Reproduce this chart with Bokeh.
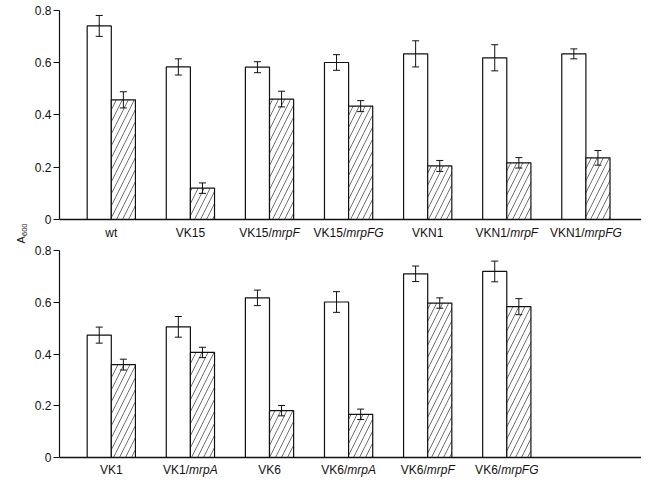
import math
from bokeh.plotting import figure
from bokeh.models import (ColumnDataSource, Range1d, FixedTicker, Span, Whisker,
                          TeeHead)
from bokeh.layouts import column, row
from bokeh.embed import file_html
from bokeh.resources import INLINE
from bokeh.core.properties import value

# ---------------- data ----------------
top_strain = ["wt", "VK15", "VK15/", "VK15/", "VKN1", "VKN1/", "VKN1/"]
top_plasmid = ["", "", "mrpF", "mrpFG", "", "mrpF", "mrpFG"]
top_open = [0.741, 0.584, 0.583, 0.601, 0.634, 0.619, 0.634]
top_open_err = [0.040, 0.031, 0.021, 0.030, 0.050, 0.050, 0.019]
top_hatch = [0.458, 0.120, 0.461, 0.434, 0.205, 0.217, 0.236]
top_hatch_err = [0.031, 0.020, 0.030, 0.021, 0.021, 0.020, 0.028]

bot_strain = ["VK1", "VK1/", "VK6", "VK6/", "VK6/", "VK6/"]
bot_plasmid = ["", "mrpA", "", "mrpA", "mrpF", "mrpFG"]
bot_open = [0.473, 0.505, 0.617, 0.601, 0.710, 0.719]
bot_open_err = [0.031, 0.040, 0.030, 0.040, 0.030, 0.040]
bot_hatch = [0.359, 0.406, 0.181, 0.167, 0.597, 0.583]
bot_hatch_err = [0.021, 0.020, 0.020, 0.020, 0.020, 0.031]

y_ticks = [0, 0.2, 0.4, 0.6, 0.8]
y_label_main = "A"
y_label_sub = "600"

# ---------------- styling / geometry ----------------
FONT = "Liberation Sans"
INK = "#111111"
X_START, X_END = -0.655, 6.703
BAR_W = 0.305
LABEL_PX = 12
LEFT_W = 30
CHAR_W = {'V': 667, 'K': 667, 'N': 722, 'w': 722, 't': 278, '1': 556, '5': 556,
          '6': 556, '/': 278, 'm': 833, 'r': 333, 'p': 556, 'F': 611, 'G': 778,
          'A': 667}


def text_width(s):
    return sum(CHAR_W.get(c, 556) for c in s) * LABEL_PX / 1000.0


def make_panel(strain, plasmid, opn, opn_err, hat, hat_err, height, y_start,
               border_top, label_y):
    p = figure(width=611, height=height, output_backend="svg", toolbar_location=None,
               x_range=Range1d(X_START, X_END), y_range=Range1d(y_start, 0.8),
               min_border_left=59 - LEFT_W, min_border_right=0, min_border_bottom=0,
               min_border_top=border_top)
    p.outline_line_color = None
    p.xgrid.visible = False
    p.ygrid.visible = False
    p.xaxis.visible = False
    p.background_fill_color = "white"

    n = len(strain)
    xs = list(range(n))
    src_o = ColumnDataSource(dict(x=[x - BAR_W / 2 for x in xs], top=opn,
                                  up=[v + e for v, e in zip(opn, opn_err)],
                                  lo=[v - e for v, e in zip(opn, opn_err)]))
    src_h = ColumnDataSource(dict(x=[x + BAR_W / 2 for x in xs], top=hat,
                                  up=[v + e for v, e in zip(hat, hat_err)],
                                  lo=[v - e for v, e in zip(hat, hat_err)]))
    p.vbar(x="x", top="top", bottom=0, width=BAR_W, source=src_o,
           fill_color="white", line_color=INK, line_width=1.2)
    p.vbar(x="x", top="top", bottom=0, width=BAR_W, source=src_h,
           fill_color="white", line_color=INK, line_width=1.2,
           hatch_pattern="/", hatch_scale=12, hatch_weight=0.7, hatch_color="#333333")
    for s in (src_o, src_h):
        w = Whisker(base="x", upper="up", lower="lo", source=s, level="overlay",
                    line_color=INK, line_width=1,
                    upper_head=TeeHead(size=7, line_color=INK, line_width=1),
                    lower_head=TeeHead(size=7, line_color=INK, line_width=1))
        p.add_layout(w)

    p.add_layout(Span(location=0, dimension="width", line_color=INK, line_width=1.3))

    offs = [(text_width(a) - text_width(b)) / 2 for a, b in zip(strain, plasmid)]
    lsrc = ColumnDataSource(dict(x=xs, y=[label_y] * n, pre=strain, suf=plasmid, off=offs))
    p.text(x="x", y="y", text="pre", x_offset="off", source=lsrc, text_align="right",
           text_baseline="middle", text_font=value(FONT),
           text_font_size=value(f"{LABEL_PX}px"), text_color=INK)
    p.text(x="x", y="y", text="suf", x_offset="off", source=lsrc, text_align="left",
           text_baseline="middle", text_font=value(FONT), text_font_style="italic",
           text_font_size=value(f"{LABEL_PX}px"), text_color=INK)

    ax = p.yaxis[0]
    ax.ticker = FixedTicker(ticks=y_ticks)
    ax.bounds = (0, 0.8)
    ax.major_label_overrides = {0: "0"}
    ax.axis_line_color = INK
    ax.axis_line_width = 1.2
    ax.major_tick_line_color = INK
    ax.major_tick_out = 6
    ax.major_tick_in = 0
    ax.minor_tick_line_color = None
    ax.major_label_standoff = 2
    ax.major_label_text_font = FONT
    ax.major_label_text_font_size = "12px"
    ax.major_label_text_color = INK
    return p


top = make_panel(top_strain, top_plasmid, top_open, top_open_err, top_hatch,
                 top_hatch_err, height=244, y_start=-0.0957, border_top=10,
                 label_y=-0.0498)
bot = make_panel(bot_strain, bot_plasmid, bot_open, bot_open_err, bot_hatch,
                 bot_hatch_err, height=240, y_start=-0.1043, border_top=6,
                 label_y=-0.0464)

# narrow strip carrying the shared y-axis title
TOTAL_H = 484
lab = figure(width=LEFT_W, height=TOTAL_H, output_backend="svg", toolbar_location=None,
             x_range=Range1d(0, LEFT_W), y_range=Range1d(0, TOTAL_H),
             min_border=0)
lab.axis.visible = False
lab.grid.visible = False
lab.outline_line_color = None
lab.text(x=[20], y=[TOTAL_H - 243], text=[y_label_main], angle=math.pi / 2,
         text_align="left", text_baseline="middle", text_font=value(FONT),
         text_font_size=value("11px"), text_color=INK)
lab.text(x=[23.5], y=[TOTAL_H - 235.5], text=[y_label_sub], angle=math.pi / 2,
         text_align="left", text_baseline="middle", text_font=value(FONT),
         text_font_size=value("7.5px"), text_color=INK)

layout = row(lab, column(top, bot, spacing=0), spacing=0)
open("out.html", "w").write(file_html(layout, INLINE))
